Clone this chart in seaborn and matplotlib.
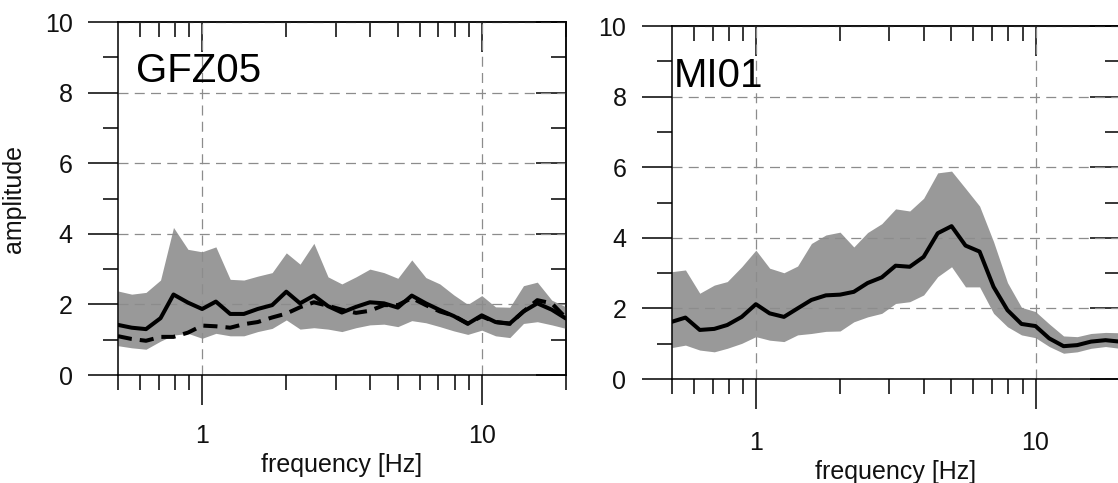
import matplotlib
matplotlib.use('Agg')
import matplotlib.pyplot as plt
import seaborn as sns
import pandas as pd
from matplotlib.ticker import FixedLocator, NullFormatter

# frequency samples [Hz]
freq = [0.50, 0.56, 0.63, 0.71, 0.79, 0.89, 1.00, 1.12, 1.26, 1.41, 1.58,
        1.78, 2.00, 2.24, 2.51, 2.82, 3.16, 3.55, 3.98, 4.47, 5.01, 5.62,
        6.31, 7.08, 7.94, 8.91, 10.0, 11.2, 12.6, 14.1, 15.8, 17.8, 20.0]

# GFZ05
gfz_mean = [1.42, 1.34, 1.30, 1.61, 2.28, 2.05, 1.87, 2.08, 1.73, 1.73, 1.87,
            1.98, 2.36, 2.03, 2.25, 1.95, 1.77, 1.93, 2.06, 2.03, 1.91, 2.25,
            2.03, 1.84, 1.67, 1.45, 1.69, 1.50, 1.46, 1.80, 2.03, 1.85, 1.60]
gfz_dash = [1.10, 1.02, 0.97, 1.08, 1.08, 1.20, 1.40, 1.38, 1.34, 1.44, 1.50,
            1.63, 1.74, 1.92, 2.06, 1.96, 1.85, 1.76, 1.82, 1.98, 1.98, 2.18,
            1.98, 1.80, 1.68, 1.46, 1.66, 1.50, 1.45, 1.80, 2.12, 2.03, 1.62]
gfz_high = [2.38, 2.29, 2.34, 2.69, 4.18, 3.56, 3.49, 3.63, 2.71, 2.69, 2.80,
            2.90, 3.46, 3.14, 3.73, 2.78, 2.58, 2.78, 3.00, 2.90, 2.74, 3.26,
            2.76, 2.58, 2.27, 2.00, 2.25, 1.93, 1.92, 2.53, 2.63, 2.12, 1.93]
gfz_low = [0.83, 0.77, 0.73, 0.96, 1.13, 1.18, 1.04, 1.18, 1.11, 1.11, 1.23,
           1.32, 1.56, 1.30, 1.34, 1.30, 1.23, 1.34, 1.42, 1.44, 1.37, 1.54,
           1.48, 1.37, 1.25, 1.15, 1.27, 1.11, 1.06, 1.46, 1.51, 1.42, 1.32]

# MI01
mi_mean = [1.62, 1.74, 1.39, 1.42, 1.53, 1.76, 2.12, 1.86, 1.76, 2.00, 2.24,
           2.37, 2.39, 2.47, 2.72, 2.88, 3.21, 3.18, 3.46, 4.13, 4.33, 3.78,
           3.61, 2.61, 1.95, 1.56, 1.50, 1.15, 0.93, 0.96, 1.06, 1.10, 1.06]
mi_high = [3.04, 3.09, 2.43, 2.66, 2.76, 3.18, 3.65, 3.14, 3.01, 3.20, 3.84,
           4.08, 4.16, 3.74, 4.15, 4.40, 4.82, 4.76, 5.12, 5.84, 5.89, 5.40,
           4.90, 3.89, 2.73, 2.03, 1.91, 1.56, 1.22, 1.20, 1.29, 1.32, 1.31]
mi_low = [0.89, 0.96, 0.82, 0.77, 0.87, 1.01, 1.20, 1.10, 1.06, 1.25, 1.29,
          1.35, 1.36, 1.62, 1.76, 1.86, 2.14, 2.19, 2.38, 2.90, 3.18, 2.61,
          2.61, 1.86, 1.48, 1.25, 1.17, 0.92, 0.73, 0.77, 0.87, 0.92, 0.87]

sns.set_theme(style="white")
plt.rcParams['font.family'] = ['Liberation Sans', 'DejaVu Sans']
plt.rcParams['text.color'] = '#111111'
plt.rcParams['axes.labelcolor'] = '#111111'

BAND = '#999999'
GRID = '#8c8c8c'
MAJ, MIN, TW = 21.6, 10.8, 1.1
minor_x = [0.6, 0.7, 0.8, 0.9, 2, 3, 4, 5, 6, 7, 8, 9, 20]


def style_panel(ax, name, xpad, name_x, name_y, ylabel=None):
    ax.set_xscale('log')
    ax.set_xlim(0.5, 20)
    ax.set_ylim(0, 10)
    ax.set_xticks([1, 10], labels=['1', '10'])
    ax.xaxis.set_minor_locator(FixedLocator([0.5] + minor_x))
    ax.xaxis.set_minor_formatter(NullFormatter())
    ax.set_yticks([0, 2, 4, 6, 8, 10])
    ax.set_yticks([1, 3, 5, 7, 9], minor=True)
    ax.tick_params(which='major', direction='out', length=MAJ, width=TW,
                   labelsize=18, color='black', labelcolor='#111111',
                   bottom=True, left=True, top=False, right=False)
    ax.tick_params(which='minor', direction='out', length=MIN, width=TW,
                   color='black', bottom=True, left=True, top=False, right=False)
    ax.tick_params(axis='x', which='major', pad=xpad)
    ax.tick_params(axis='y', which='major', pad=11)
    for s in ax.spines.values():
        s.set_visible(True)
        s.set_color('black')
        s.set_linewidth(TW)
    ax.set_axisbelow('line')
    ax.grid(True, which='major', color=GRID, linestyle=(0, (8, 5)), linewidth=0.9)
    ax.grid(False, which='minor')
    ax.set_xlabel('frequency [Hz]', fontsize=18, labelpad=3.5)
    if ylabel:
        ax.set_ylabel(ylabel, fontsize=18, labelpad=13.5)
    else:
        ax.set_ylabel('')

    # ticks pointing inward on top and right
    top = ax.secondary_xaxis('top')
    top.set_xticks([1, 10])
    top.xaxis.set_minor_locator(FixedLocator(minor_x))
    top.tick_params(which='major', direction='in', length=MAJ, width=TW,
                    color='black', top=True, labeltop=False)
    top.tick_params(which='minor', direction='in', length=MIN, width=TW,
                    color='black', top=True, labeltop=False)
    top.spines['top'].set_linewidth(TW)
    right = ax.secondary_yaxis('right')
    right.set_yticks([0, 2, 4, 6, 8, 10])
    right.set_yticks([1, 3, 5, 7, 9], minor=True)
    right.tick_params(which='major', direction='in', length=MAJ, width=TW,
                      color='black', right=True, labelright=False)
    right.tick_params(which='minor', direction='in', length=MIN, width=TW,
                      color='black', right=True, labelright=False)
    right.spines['right'].set_linewidth(TW)

    ax.text(name_x, name_y, name, transform=ax.transAxes, fontsize=29,
            ha='left', va='baseline', color='black')


fig = plt.figure(figsize=(11.18, 4.83), dpi=100)
ax1 = fig.add_axes([0.1055, 0.2236, 0.4007, 0.7308])
ax2 = fig.add_axes([0.6008, 0.2153, 0.4007, 0.7308])

# GFZ05
ax1.fill_between(freq, gfz_low, gfz_high, color=BAND, linewidth=0)
sns.lineplot(x=freq, y=gfz_dash, ax=ax1, color='black', linewidth=2.9,
             linestyle=(0, (3.5, 2)))
sns.lineplot(x=freq, y=gfz_mean, ax=ax1, color='black', linewidth=2.9)
style_panel(ax1, 'GFZ05', 14, 0.040, 0.830, ylabel='amplitude')

# MI01
ax2.fill_between(freq, mi_low, mi_high, color=BAND, linewidth=0)
sns.lineplot(x=freq, y=mi_mean, ax=ax2, color='black', linewidth=2.9)
style_panel(ax2, 'MI01', 16, 0.005, 0.827)

fig.savefig('out.png', dpi=100)
